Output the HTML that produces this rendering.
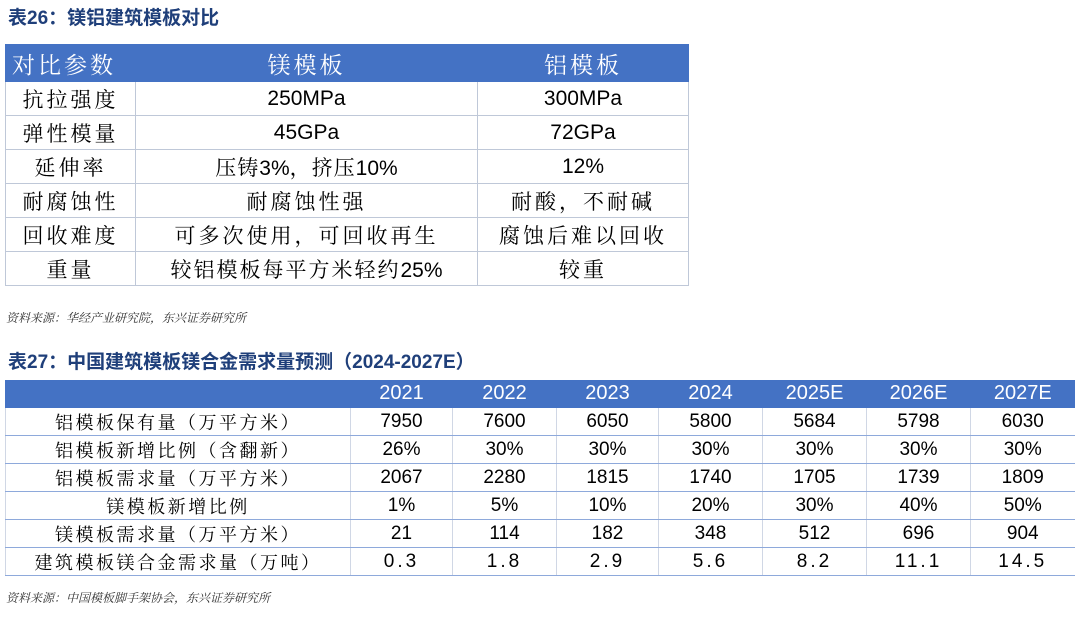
<!DOCTYPE html>
<html><head><meta charset="utf-8"><style>
body{margin:0;width:1080px;height:617px;background:#fff;position:relative;overflow:hidden;font-family:"Liberation Sans","Noto Sans CJK SC",sans-serif}
.t{position:absolute;left:8px;font-weight:bold;color:#1F3F7A;font-size:19px}
.src{position:absolute;left:6px;font-size:12px;font-style:italic;color:#333;font-family:"Noto Serif CJK SC","Noto Serif CJK JP",serif}
table{position:absolute;border-collapse:collapse;table-layout:fixed}
td{padding:0;text-align:center;white-space:nowrap;overflow:hidden}
.sf{font-family:"Noto Serif CJK SC","Noto Serif CJK JP","Liberation Serif",serif;letter-spacing:3px}
.n{font-family:"Liberation Sans",sans-serif;letter-spacing:0}
#t1{left:5px;top:44px;width:683px;font-size:21px}
#t1 td{border:1px solid #BFC8D8;height:33px;color:#000}
#t1 tr.h td{background:#4472C4;color:#fff;height:36px;border-color:#4472C4;font-size:23px}
#t2{left:5px;top:380px;width:1069px;font-size:19px}
#t2 td{border-left:1px solid #D0D7E5;border-bottom:1px solid #8EA9DB;height:27px;color:#000}
#t2 tr.h td{background:#4472C4;color:#fff;font-size:20px;border-color:#4472C4}
#t2 td.sf{letter-spacing:2.5px;font-size:18px}
</style></head><body>
<div class="t" style="top:3px">表26：镁铝建筑模板对比</div>
<table id="t1">
<colgroup><col style="width:130px"><col style="width:342px"><col style="width:211px"></colgroup>
<tr class="h"><td class="sf" style="text-align:left;padding-left:6px">对比参数</td><td class="sf">镁模板</td><td class="sf">铝模板</td></tr>
<tr><td class="sf">抗拉强度</td><td>250MPa</td><td>300MPa</td></tr>
<tr><td class="sf">弹性模量</td><td>45GPa</td><td>72GPa</td></tr>
<tr><td class="sf">延伸率</td><td class="sf" style="letter-spacing:1px">压铸<span class="n">3%</span>，挤压<span class="n">10%</span></td><td>12%</td></tr>
<tr><td class="sf">耐腐蚀性</td><td class="sf">耐腐蚀性强</td><td class="sf">耐酸，不耐碱</td></tr>
<tr><td class="sf">回收难度</td><td class="sf">可多次使用，可回收再生</td><td class="sf">腐蚀后难以回收</td></tr>
<tr><td class="sf">重量</td><td class="sf" style="letter-spacing:2px">较铝模板每平方米轻约<span class="n">25%</span></td><td class="sf">较重</td></tr>
</table>
<div class="src" style="top:309px">资料来源：华经产业研究院，东兴证券研究所</div>
<div class="t" style="top:347px">表27：中国建筑模板镁合金需求量预测（2024-2027E）</div>
<table id="t2">
<colgroup><col style="width:345px"><col style="width:102px"><col style="width:104px"><col style="width:102px"><col style="width:104px"><col style="width:104px"><col style="width:104px"><col style="width:104px"></colgroup>
<tr class="h"><td></td><td>2021</td><td>2022</td><td>2023</td><td>2024</td><td>2025E</td><td>2026E</td><td>2027E</td></tr>
<tr><td class="sf">铝模板保有量（万平方米）</td><td>7950</td><td>7600</td><td>6050</td><td>5800</td><td>5684</td><td>5798</td><td>6030</td></tr>
<tr><td class="sf">铝模板新增比例（含翻新）</td><td>26%</td><td>30%</td><td>30%</td><td>30%</td><td>30%</td><td>30%</td><td>30%</td></tr>
<tr><td class="sf">铝模板需求量（万平方米）</td><td>2067</td><td>2280</td><td>1815</td><td>1740</td><td>1705</td><td>1739</td><td>1809</td></tr>
<tr><td class="sf">镁模板新增比例</td><td>1%</td><td>5%</td><td>10%</td><td>20%</td><td>30%</td><td>40%</td><td>50%</td></tr>
<tr><td class="sf">镁模板需求量（万平方米）</td><td>21</td><td>114</td><td>182</td><td>348</td><td>512</td><td>696</td><td>904</td></tr>
<tr><td class="sf">建筑模板镁合金需求量（万吨）</td><td style="letter-spacing:3px">0.3</td><td style="letter-spacing:3px">1.8</td><td style="letter-spacing:3px">2.9</td><td style="letter-spacing:3px">5.6</td><td style="letter-spacing:3px">8.2</td><td style="letter-spacing:3px">11.1</td><td style="letter-spacing:3px">14.5</td></tr>
</table>
<div class="src" style="top:589px">资料来源：中国模板脚手架协会，东兴证券研究所</div>
</body></html>
